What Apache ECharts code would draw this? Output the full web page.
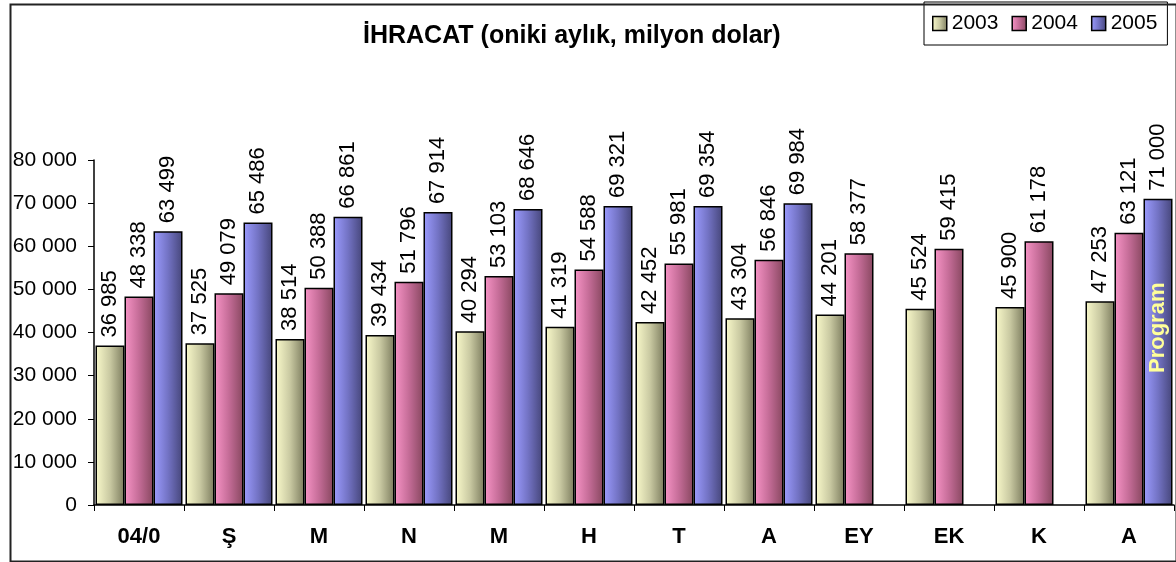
<!DOCTYPE html>
<html>
<head>
<meta charset="utf-8">
<script src="https://cdn.jsdelivr.net/npm/echarts@6/dist/echarts.min.js"></script>
<style>
  html, body { margin: 0; padding: 0; background: #fff; }
  #chart { width: 1176px; height: 562px; }
</style>
</head>
<body>
<div id="chart"></div>
<script>
const months = ['04/0', 'Ş', 'M', 'N', 'M', 'H', 'T', 'A', 'EY', 'EK', 'K', 'A']
const years = ['2003', '2004', '2005']
const exp2003 = [36985, 37525, 38514, 39434, 40294, 41319, 42452, 43304, 44201, 45524, 45900, 47253]
const exp2004 = [48338, 49079, 50388, 51796, 53103, 54588, 55981, 56846, 58377, 59415, 61178, 63121]
const exp2005 = [63499, 65486, 66861, 67914, 68646, 69321, 69354, 69984, '-', '-', '-', 71000]
const yTicks = [0, 10000, 20000, 30000, 40000, 50000, 60000, 70000, 80000]

const fmt = v => String(v).replace(/\B(?=(\d{3})+(?!\d))/g, ' ')

function grad(light, mid, dark) {
  return new echarts.graphic.LinearGradient(0, 0, 1, 0, [
    { offset: 0, color: light },
    { offset: 0.5, color: mid },
    { offset: 1, color: dark }
  ])
}
const fills = [
  grad('#fafacb', '#c9c9a2', '#7c7c5e'),
  grad('#f794c6', '#c46c97', '#87475f'),
  grad('#9c9cff', '#7373c4', '#46467a')
]

const topLabel = {
  show: true,
  position: 'top',
  distance: 8,
  rotate: 90,
  align: 'left',
  verticalAlign: 'middle',
  fontFamily: 'Liberation Sans, Arial',
  fontSize: 22,
  color: '#000',
  formatter: p => fmt(p.value)
}

function makeSeries(name, data, i) {
  return {
    name: name,
    type: 'bar',
    data: data,
    barWidth: 29,
    barGap: '0%',
    itemStyle: { color: fills[i], borderColor: '#000', borderWidth: 1.5 },
    label: topLabel
  }
}

// last 2005 bar carries the "Program" note inside, its value goes on a markPoint
const s2005 = exp2005.map((v, i) => {
  if (i === exp2005.length - 1) {
    return {
      value: v,
      label: {
        show: true,
        position: 'insideBottom',
        distance: 132,
        rotate: 90,
        align: 'left',
        verticalAlign: 'middle',
        fontFamily: 'Liberation Sans, Arial',
        fontWeight: 'bold',
        fontSize: 22,
        color: '#ffff99',
        formatter: 'Program'
      }
    }
  }
  return v
})

const chart = echarts.init(document.getElementById('chart'))
const series = [
  makeSeries(years[0], exp2003, 0),
  makeSeries(years[1], exp2004, 1),
  makeSeries(years[2], s2005, 2)
]
series[2].markPoint = {
  symbol: 'rect',
  symbolSize: 0,
  data: [{ type: 'max' }],
  label: Object.assign({}, topLabel, { formatter: p => fmt(p.value) })
}

const option = {
  animation: false,
  backgroundColor: '#fff',
  textStyle: { fontFamily: 'Liberation Sans, Arial' },
  title: {
    text: 'İHRACAT (oniki aylık, milyon dolar)',
    left: 363,
    top: 24,
    padding: 0,
    textStyle: { fontFamily: 'Liberation Sans, Arial', fontWeight: 'bold', fontSize: 25, color: '#000' }
  },
  legend: {
    data: years,
    left: 924,
    top: 2,
    orient: 'horizontal',
    padding: [11, 10, 11, 8],
    itemGap: 13,
    itemWidth: 14,
    itemHeight: 14,
    borderColor: '#000',
    borderWidth: 1,
    icon: 'rect',
    itemStyle: { borderColor: '#000', borderWidth: 1.5 },
    textStyle: { fontFamily: 'Liberation Sans, Arial', fontSize: 21, color: '#000' }
  },
  grid: { left: 94, right: 2, top: 160, bottom: 57, containLabel: false },
  xAxis: {
    type: 'category',
    data: months,
    axisLine: { lineStyle: { color: '#000', width: 1.5 } },
    axisTick: { show: true, length: 6, lineStyle: { color: '#000' } },
    axisLabel: {
      interval: 0,
      margin: 21,
      fontFamily: 'Liberation Sans, Arial',
      fontWeight: 'bold',
      fontSize: 22,
      color: '#000'
    }
  },
  yAxis: {
    type: 'value',
    min: yTicks[0],
    max: yTicks[yTicks.length - 1],
    interval: yTicks[1] - yTicks[0],
    splitLine: { show: false },
    axisLine: { show: true, lineStyle: { color: '#000', width: 1.5 } },
    axisTick: { show: true, length: 6, lineStyle: { color: '#000' } },
    axisLabel: {
      margin: 17,
      fontFamily: 'Liberation Sans, Arial',
      fontSize: 21,
      color: '#000',
      formatter: v => fmt(v)
    }
  },
  graphic: [{
    type: 'rect',
    left: 8,
    top: 2,
    shape: { width: 1166, height: 557 },
    style: { fill: 'none', stroke: '#222', lineWidth: 2 },
    silent: true,
    z: 100
  }],
  series: series
}

option && chart.setOption(option)
</script>
</body>
</html>
